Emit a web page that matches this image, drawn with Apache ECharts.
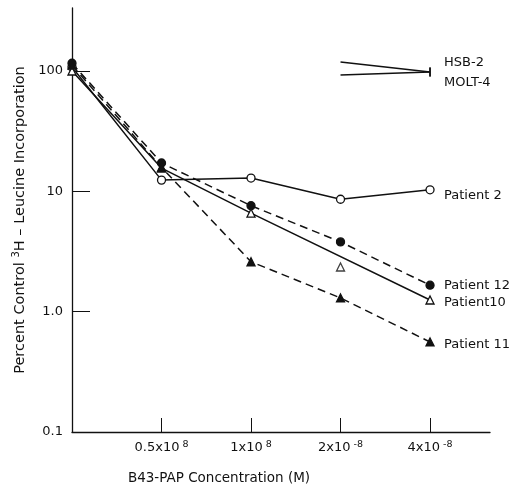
<!DOCTYPE html>
<html>
<head>
<meta charset="utf-8">
<script src="https://cdn.jsdelivr.net/npm/echarts@6/dist/echarts.min.js"></script>
<style>html,body{margin:0;padding:0;background:#fff}#c{width:512px;height:492px}</style>
</head>
<body>
<div id="c"></div>
<script>
// concentration positions (equally spaced on the plot) and tick labels
var xPos = [0, 1, 2, 3, 4];
var xTickPos = [1, 2, 3, 4];
var xTickBase = ['0.5x10', '1x10', '2x10', '4x10'];
var xTickExp = ['8', '8', '-8', '-8'];
var yTicks = [0.1, 1, 10, 100];
var yTickLabels = ['0.1', '1.0', '10', '100'];

// percent control 3H-leucine incorporation
var patient2 = [108, 12.4, 12.9, 8.6, 10.3];
var patient12 = [116, 17.2, 7.6, 3.8, 1.66];
var patient10Line = [100, 15.6, 6.6, null, 1.25];
var patient10Extra = [[3, 2.35]];
var patient11 = [112, 15.8, 2.6, 1.3, 0.56];
var hsbX = [3, 4];
var hsb2 = [119, 98];
var molt4 = [92.6, 98];

function pairs(xs, ys) { return ys.map(function (v, i) { return [xs[i], v]; }); }
function endMark(xs, ys) {
  return ys.map(function (v, i) {
    var d = { value: [xs[i], v] };
    if (i === ys.length - 1) { d.symbol = 'rect'; d.symbolSize = [1.5, 9]; }
    else { d.symbol = 'none'; }
    return d;
  });
}

var F = 'DejaVu Sans';

function patientSeries(name, data, dashed, symbol, filled, dy) {
  return {
    name: name, type: 'line', data: pairs(xPos, data), connectNulls: true,
    symbol: symbol, symbolSize: 8, showAllSymbol: true,
    lineStyle: { color: '#111', width: 1.5, type: dashed ? [8, 5] : 'solid' },
    itemStyle: { color: filled ? '#111' : '#fff', borderColor: '#111', borderWidth: 1.3 },
    endLabel: { show: true, formatter: name, offset: [6, dy], fontFamily: F, fontSize: 13, color: '#111' },
    z: 3
  };
}

var chart = echarts.init(document.getElementById('c'), null, { renderer: 'canvas' });
chart.setOption({
  animation: false,
  backgroundColor: '#fff',
  grid: { left: 72, right: 22, top: 8, bottom: 60 },
  xAxis: {
    type: 'value', min: 0, max: 4.67,
    name: 'B43-PAP Concentration (M)', nameLocation: 'middle', nameGap: 39,
    nameTextStyle: { fontFamily: F, fontSize: 13.5, color: '#111', padding: [0, 124, 0, 0] },
    axisLine: { lineStyle: { color: '#111', width: 1.3 } },
    axisTick: { show: true, inside: true, length: 14, customValues: xTickPos, lineStyle: { color: '#111', width: 1 } },
    axisLabel: {
      customValues: xTickPos, margin: 8,
      formatter: function (v) {
        var i = xTickPos.indexOf(v);
        if (i < 0) return '';
        return '{b|' + xTickBase[i] + '}{s|' + xTickExp[i] + '}';
      },
      rich: {
        b: { fontFamily: F, fontSize: 13, color: '#111' },
        s: { fontFamily: F, fontSize: 9.5, color: '#111', verticalAlign: 'top', padding: [0, 0, 6, 3] }
      }
    },
    splitLine: { show: false }
  },
  yAxis: {
    type: 'log', logBase: 10, min: 0.1, max: 334,
    name: '{a|Percent Control }{s|3}{a|H – Leucine Incorporation}', nameLocation: 'middle', nameGap: 42, nameRotate: 90,
    nameTextStyle: {
      rich: {
        a: { fontFamily: F, fontSize: 14.5, color: '#111' },
        s: { fontFamily: F, fontSize: 10, color: '#111', padding: [0, 0, 7, 0] }
      }
    },
    axisLine: { show: true, lineStyle: { color: '#111', width: 1.3 } },
    axisTick: { show: true, inside: true, length: 18, customValues: yTicks, lineStyle: { color: '#111', width: 1 } },
    axisLabel: {
      customValues: yTicks, margin: 9, fontFamily: F, fontSize: 13, color: '#111',
      formatter: function (v) {
        for (var i = 0; i < yTicks.length; i++) if (Math.abs(v - yTicks[i]) < 1e-9 * yTicks[i] + 1e-12) return yTickLabels[i];
        return '';
      }
    },
    splitLine: { show: false },
    minorTick: { show: false }
  },
  series: [
    patientSeries('Patient 2', patient2, false, 'circle', false, 6),
    patientSeries('Patient 12', patient12, true, 'circle', true, 0),
    patientSeries('Patient10', patient10Line, false, 'triangle', false, 3),
    patientSeries('Patient 11', patient11, true, 'triangle', true, 3),
    {
      name: 'Patient10 obs', type: 'scatter', data: patient10Extra, symbol: 'triangle', symbolSize: 8,
      itemStyle: { color: '#fff', borderColor: '#111', borderWidth: 1.3 }, z: 3
    },
    {
      name: 'HSB-2', type: 'line', data: endMark(hsbX, hsb2),
      lineStyle: { color: '#111', width: 1.5 }, itemStyle: { color: '#111' },
      endLabel: { show: true, formatter: 'HSB-2', offset: [6, -9], fontFamily: F, fontSize: 13, color: '#111' }
    },
    {
      name: 'MOLT-4', type: 'line', data: endMark(hsbX, molt4),
      lineStyle: { color: '#111', width: 1.5 }, itemStyle: { color: '#111' },
      endLabel: { show: true, formatter: 'MOLT-4', offset: [6, 11], fontFamily: F, fontSize: 13, color: '#111' }
    }
  ]
});
</script>
</body>
</html>
